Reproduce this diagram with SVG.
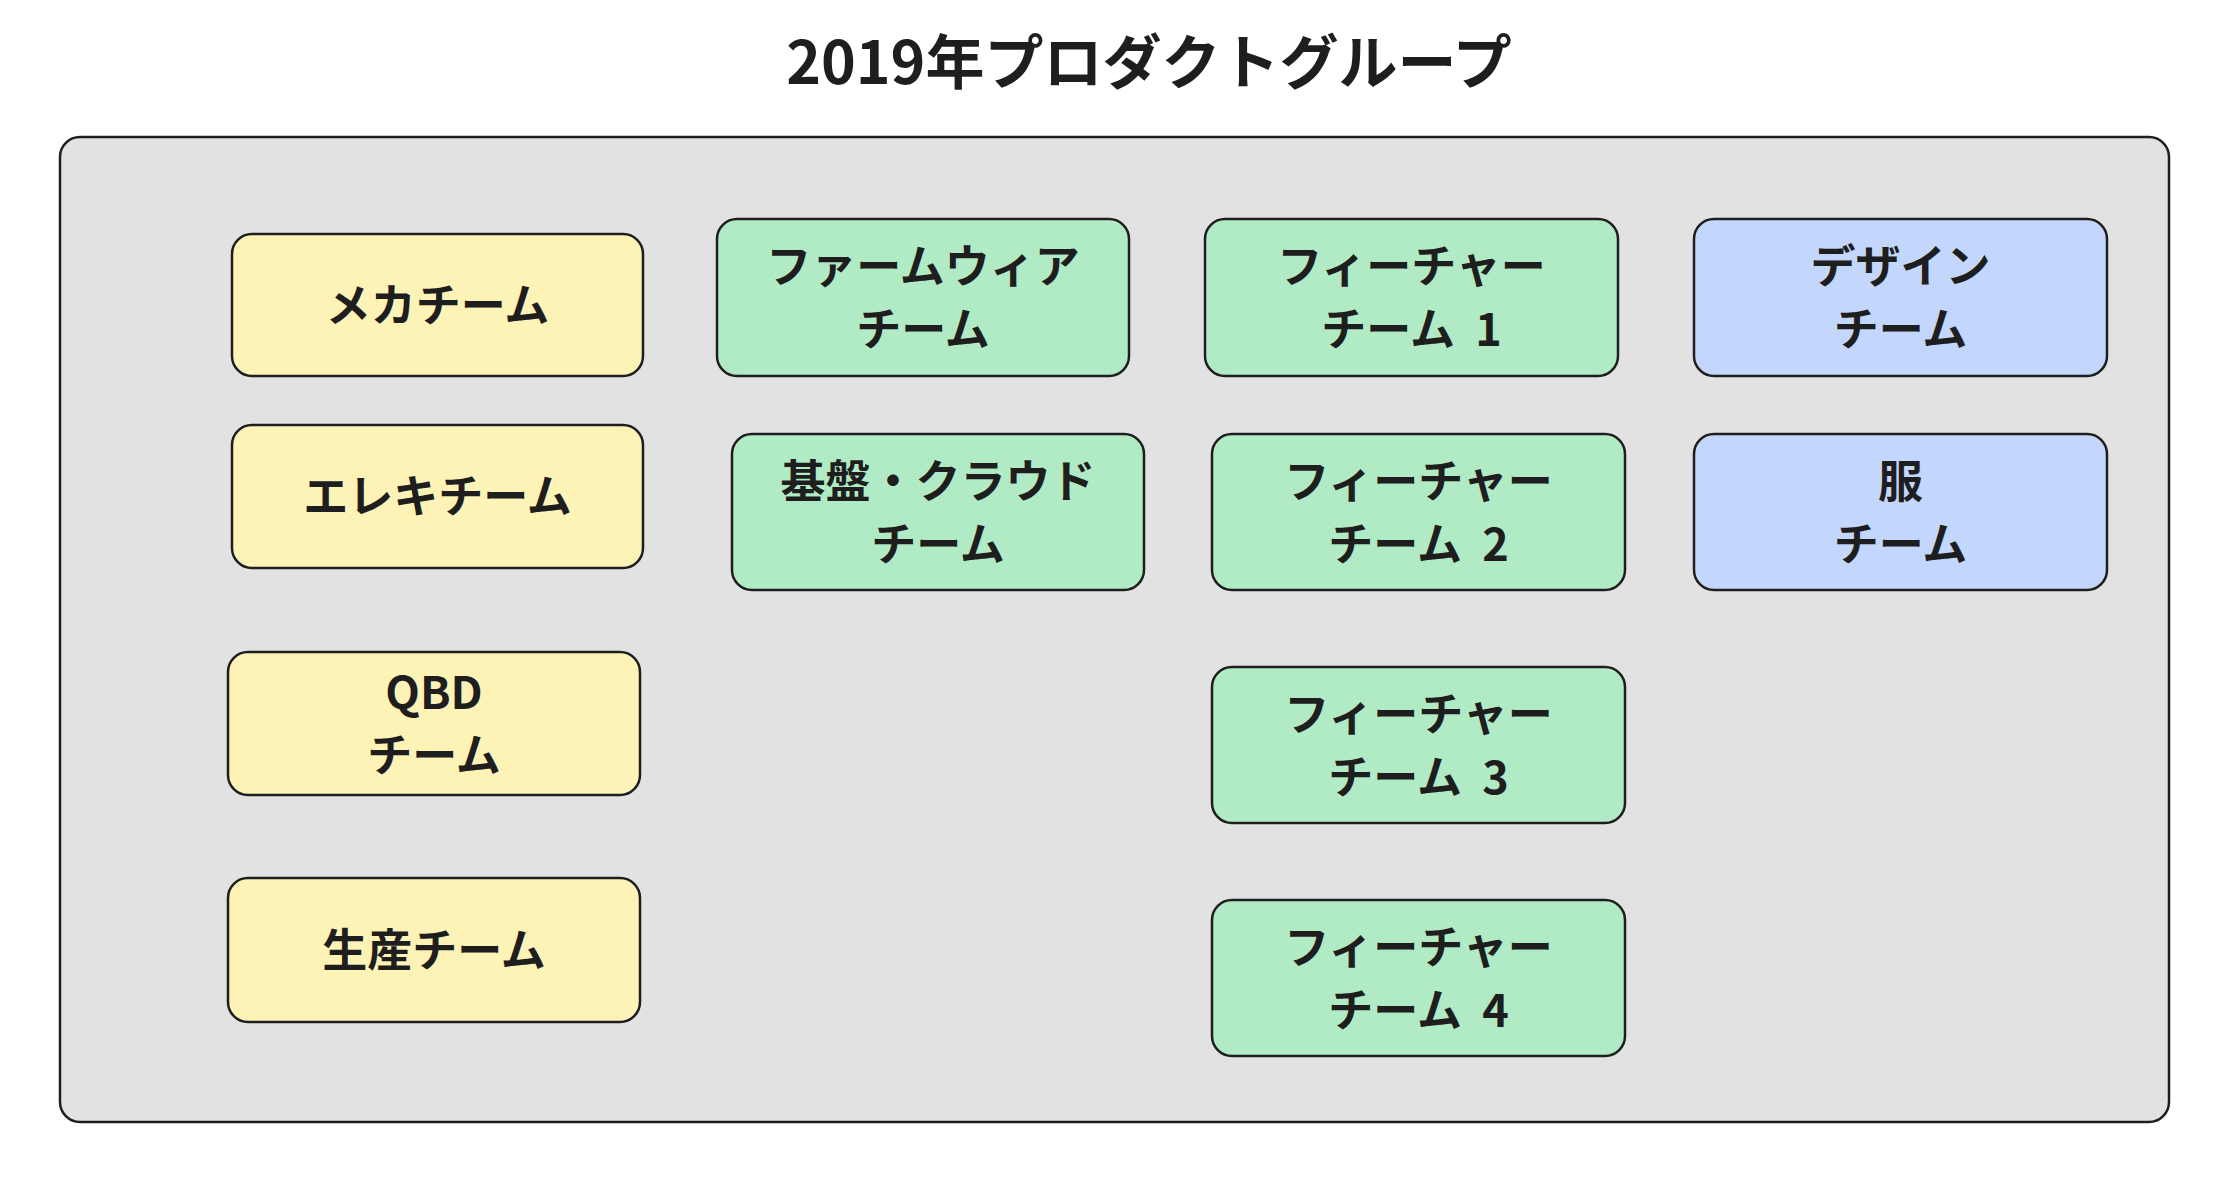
<svg xmlns="http://www.w3.org/2000/svg" width="2222" height="1189" viewBox="0 0 2222 1189">
<style>
.t{font-family:"Noto Sans CJK JP","Noto Sans",sans-serif;font-weight:700;fill:#1e1e1e;text-anchor:middle}
.n{font-size:45px}
.title{font-size:59px}
.box{stroke:#1e1e1e;stroke-width:2.5}
.y{fill:#fdf3b7}
.g{fill:#b1ebc5}
.b{fill:#c3d7fc}
</style>
<rect width="2222" height="1189" fill="#ffffff"/>
<text class="t title" x="1149" y="84">2019年プロダクトグループ</text>
<g id="container">
<rect x="60" y="137" width="2109" height="985" rx="20" fill="#e2e2e2" stroke="#1e1e1e" stroke-width="2.5"/>
</g>
<g id="connectors"></g>
<g id="mecha"><rect class="box y" x="232" y="234" width="411" height="142" rx="20"/><text class="t n" x="437.5" y="322">メカチーム</text></g>
<g id="elec"><rect class="box y" x="232" y="425" width="411" height="143" rx="20"/><text class="t n" x="437.5" y="513">エレキチーム</text></g>
<g id="qbd"><rect class="box y" x="228" y="652" width="412" height="143" rx="20"/><text class="t n" x="434" y="709">QBD</text><text class="t n" x="434" y="772">チーム</text></g>
<g id="seisan"><rect class="box y" x="228" y="878" width="412" height="144" rx="20"/><text class="t n" x="434" y="967">生産チーム</text></g>
<g id="firmware"><rect class="box g" x="717" y="219" width="412" height="157" rx="20"/><text class="t n" x="923" y="283">ファームウィア</text><text class="t n" x="923" y="346">チーム</text></g>
<g id="infra"><rect class="box g" x="732" y="434" width="412" height="156" rx="20"/><text class="t n" x="938" y="498">基盤・クラウド</text><text class="t n" x="938" y="561">チーム</text></g>
<g id="feature1"><rect class="box g" x="1205" y="219" width="413" height="157" rx="20"/><text class="t n" x="1411.5" y="283">フィーチャー</text><text class="t n" x="1411.5" y="346">チーム <tspan dx="10">1</tspan></text></g>
<g id="feature2"><rect class="box g" x="1212" y="434" width="413" height="156" rx="20"/><text class="t n" x="1418.5" y="498">フィーチャー</text><text class="t n" x="1418.5" y="561">チーム <tspan dx="10">2</tspan></text></g>
<g id="feature3"><rect class="box g" x="1212" y="667" width="413" height="156" rx="20"/><text class="t n" x="1418.5" y="731">フィーチャー</text><text class="t n" x="1418.5" y="794">チーム <tspan dx="10">3</tspan></text></g>
<g id="feature4"><rect class="box g" x="1212" y="900" width="413" height="156" rx="20"/><text class="t n" x="1418.5" y="964">フィーチャー</text><text class="t n" x="1418.5" y="1027">チーム <tspan dx="10">4</tspan></text></g>
<g id="design"><rect class="box b" x="1694" y="219" width="413" height="157" rx="20"/><text class="t n" x="1900.5" y="283">デザイン</text><text class="t n" x="1900.5" y="346">チーム</text></g>
<g id="fuku"><rect class="box b" x="1694" y="434" width="413" height="156" rx="20"/><text class="t n" x="1900.5" y="498">服</text><text class="t n" x="1900.5" y="561">チーム</text></g>
</svg>
